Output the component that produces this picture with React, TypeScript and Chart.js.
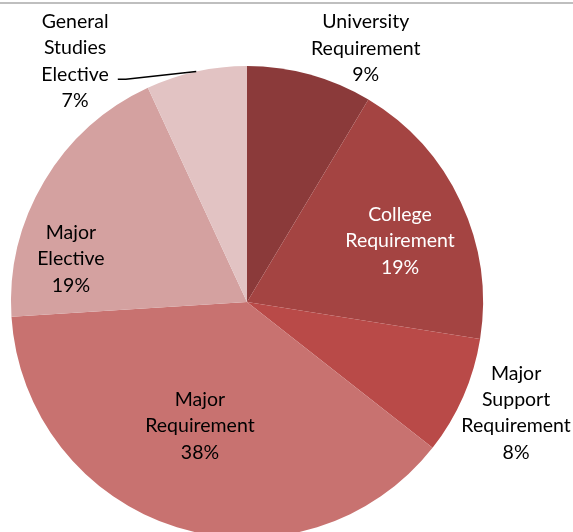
import React, { useEffect, useRef } from "react";
import { Chart, registerables } from "chart.js";

Chart.register(...registerables);

const categories = [
  "University Requirement",
  "College Requirement",
  "Major Support Requirement",
  "Major Requirement",
  "Major Elective",
  "General Studies Elective",
];
const values = [8.6, 18.9, 8.1, 38.4, 19.1, 6.9];
const labelWords = [
  ["University", "Requirement"],
  ["College", "Requirement"],
  ["Major", "Support", "Requirement"],
  ["Major", "Requirement"],
  ["Major", "Elective"],
  ["General", "Studies", "Elective"],
];
const colors = ["#8B3A3A", "#A44442", "#B94A48", "#C87270", "#D4A1A0", "#E2C3C3"];
const labelColors = ["#000", "#fff", "#000", "#000", "#000", "#000"];
// placement relative to each slice: angle shift (deg) and radial factor
const labelAngleShift = [9.6, 3.3, -1.2, 3.5, -17.1, -23.1];
const labelRadius = [1.187, 0.698, 1.233, 0.562, 0.768, 1.254];
const leader = [false, false, false, false, false, true];

const FONT = "19.5px Lato, 'Open Sans', sans-serif";
const LINE_H = 26.3;

const labelPlugin = {
  id: "pieLabels",
  beforeDraw(chart: any) {
    const ctx = chart.ctx;
    ctx.save();
    ctx.fillStyle = "#BFBFBF";
    ctx.fillRect(0, 2, chart.width, 2);
    ctx.restore();
  },
  afterDatasetsDraw(chart: any) {
    const ctx = chart.ctx;
    const meta = chart.getDatasetMeta(0);
    const total = values.reduce((s, v) => s + v, 0);
    ctx.save();
    ctx.font = FONT;
    ctx.textAlign = "center";
    ctx.textBaseline = "middle";
    meta.data.forEach((arc: any, i: number) => {
      const { x, y, startAngle, endAngle, outerRadius } = arc.getProps(
        ["x", "y", "startAngle", "endAngle", "outerRadius"],
        true
      );
      const mid = (startAngle + endAngle) / 2;
      const a = mid + (labelAngleShift[i] * Math.PI) / 180;
      const r = outerRadius * labelRadius[i];
      const cx = x + Math.cos(a) * r;
      const cy = y + Math.sin(a) * r;
      const lines = [...labelWords[i], Math.round((values[i] / total) * 100) + "%"];
      const n = lines.length;
      ctx.fillStyle = labelColors[i];
      lines.forEach((t, k) => {
        ctx.fillText(t, cx, cy + (k - (n - 1) / 2) * LINE_H);
      });
      if (leader[i]) {
        const ex = x + Math.cos(mid) * outerRadius;
        const ey = y + Math.sin(mid) * outerRadius;
        const wLine = ctx.measureText(lines[2]).width;
        const ly = cy + (2 - (n - 1) / 2) * LINE_H + 5;
        const lx = cx + wLine / 2 + 9;
        ctx.strokeStyle = "#000";
        ctx.lineWidth = 1.5;
        ctx.beginPath();
        ctx.moveTo(ex, ey);
        ctx.lineTo(lx + 8, ly);
        ctx.lineTo(lx, ly);
        ctx.stroke();
      }
    });
    ctx.restore();
  },
};

export default function App() {
  const ref = useRef<HTMLCanvasElement | null>(null);
  useEffect(() => {
    document.body.style.margin = "0";
    if (!ref.current) return;
    const chart = new Chart(ref.current, {
      type: "pie",
      data: {
        labels: categories,
        datasets: [
          {
            data: values,
            backgroundColor: colors,
            borderWidth: 0,
          },
        ],
      },
      options: {
        animation: false,
        responsive: false,
        maintainAspectRatio: false,
        layout: { padding: { left: 11, right: 90, top: 66, bottom: 7 } },
        plugins: {
          legend: { display: false },
          tooltip: { enabled: false },
        },
      },
      plugins: [labelPlugin],
    });
    return () => chart.destroy();
  }, []);
  return (
    <div style={{ width: 573, height: 532, overflow: "hidden", background: "#fff" }}>
      <canvas ref={ref} width={573} height={545} style={{ width: 573, height: 545, display: "block" }} />
    </div>
  );
}
